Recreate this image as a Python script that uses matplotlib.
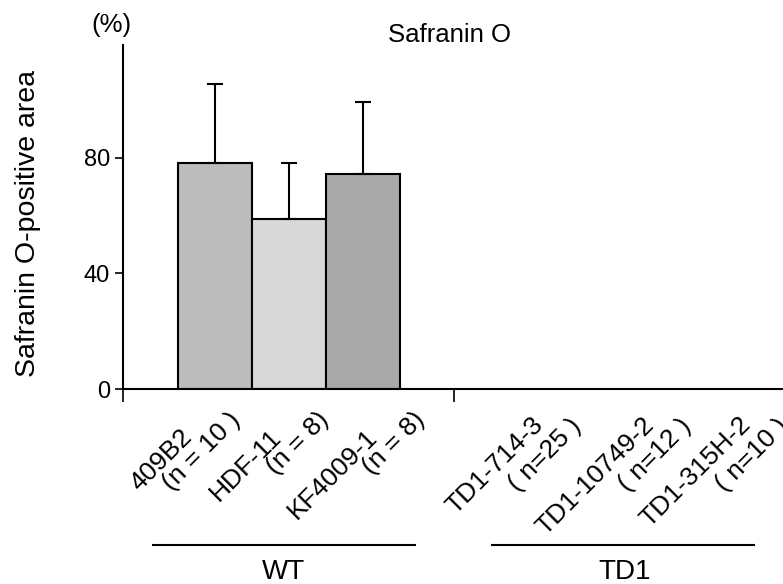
import numpy as np
import matplotlib
matplotlib.use("Agg")
import matplotlib.pyplot as plt
import matplotlib.transforms as mtransforms

plt.rcParams['font.family'] = ['Liberation Sans', 'DejaVu Sans']

# data
names = ['409B2', 'HDF-11', 'KF4009-1', 'TD1-714-3', 'TD1-10749-2', 'TD1-315H-2']
n_text = ['(n = 10 )', '(n = 8)', '(n = 8)', '( n=25 )', '( n=12 )', '( n=10 )']
values = [78.3, 58.8, 74.4, 0, 0, 0]
errors = [27.3, 19.4, 24.9, 0, 0, 0]
colors = ['#bcbcbc', '#d8d8d8', '#a9a9a9']
groups = ['WT', 'TD1']

# bar positions (WT bars touch) and where each rotated label ends
xpos = np.array([0, 1, 2])
label_x = np.array([-0.3, 0.9, 2.2, 4.45, 5.94, 7.25])

fig = plt.figure(figsize=(7.83, 5.84), dpi=100)
ax = fig.add_axes([123 / 783, 195 / 584, 660 / 783, 344 / 584])

ax.bar(xpos, values[:3], width=1.0, color=colors, edgecolor='black', linewidth=1.5)
ax.errorbar(xpos, values[:3], yerr=[np.zeros(3), errors[:3]], fmt='none',
            ecolor='black', elinewidth=1.5, capsize=5.5, capthick=1.5)

ax.set_xlim(-1.25, 7.67)
ax.set_ylim(0, 119)
ax.set_yticks([0, 40, 80])
ax.tick_params(axis='y', labelsize=17, length=6, width=1.2, direction='out')
ax.set_xticks([-1.25, 3.22])
ax.set_xticklabels([])
ax.tick_params(axis='x', length=9, width=1.2, direction='out')
for s in ['top', 'right']:
    ax.spines[s].set_visible(False)
ax.spines['left'].set_linewidth(1.5)
ax.spines['bottom'].set_linewidth(1.5)

ax.set_ylabel('Safranin O-positive area', fontsize=20.5)
ax.yaxis.set_label_coords(-0.124, 0.48)
ax.text(-0.017, 1.058, '(%)', transform=ax.transAxes, fontsize=18.5, ha='center', va='center')
fig.text(0.574, 0.94, 'Safranin O', fontsize=18.5, ha='center', va='center')

# rotated category labels: name line and n line
base = mtransforms.blended_transform_factory(ax.transData, ax.transAxes)
for i, (nm, nt) in enumerate(zip(names, n_text)):
    if i < 3:
        t1 = mtransforms.offset_copy(base, fig=fig, x=0, y=-49, units='dots')
        t2 = mtransforms.offset_copy(base, fig=fig, x=48, y=-32, units='dots')
    else:
        t1 = mtransforms.offset_copy(base, fig=fig, x=0, y=-37, units='dots')
        t2 = mtransforms.offset_copy(base, fig=fig, x=38, y=-38, units='dots')
    ax.text(label_x[i], 0, nm, transform=t1, rotation=45, rotation_mode='anchor',
            ha='right', va='baseline', fontsize=19)
    ax.text(label_x[i], 0, nt, transform=t2, rotation=45, rotation_mode='anchor',
            ha='right', va='baseline', fontsize=19)

# group lines and names
line_y = 1 - 545 / 584
fig.add_artist(plt.Line2D([153 / 783, 415 / 783], [line_y, line_y], color='black', lw=1.5))
fig.add_artist(plt.Line2D([492 / 783, 754 / 783], [line_y, line_y], color='black', lw=1.5))
fig.text(284 / 783, 1 - 572 / 584, groups[0], fontsize=20, ha='center', va='center')
fig.text(625 / 783, 1 - 572 / 584, groups[1], fontsize=20, ha='center', va='center')

fig.savefig('out.png', dpi=100)
